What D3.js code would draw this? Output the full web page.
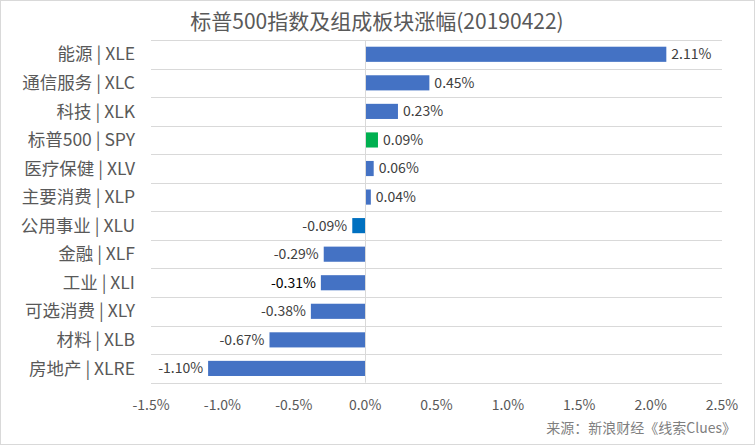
<!DOCTYPE html>
<html>
<head>
<meta charset="utf-8">
<script src="https://cdn.jsdelivr.net/npm/d3@7"></script>
<style>
  body { margin: 0; background: #fff; }
  svg { display: block; }
</style>
</head>
<body>
<svg id="chart" width="755" height="445"></svg>
<script>
// data
var categories = ["能源 | XLE", "通信服务 | XLC", "科技 | XLK", "标普500 | SPY", "医疗保健 | XLV",
  "主要消费 | XLP", "公用事业 | XLU", "金融 | XLF", "工业 | XLI", "可选消费 | XLY", "材料 | XLB", "房地产 | XLRE"];
var values = [2.11, 0.45, 0.23, 0.09, 0.06, 0.04, -0.09, -0.29, -0.31, -0.38, -0.67, -1.10];
var tickValues = [-1.5, -1.0, -0.5, 0.0, 0.5, 1.0, 1.5, 2.0, 2.5];
var title = "标普500指数及组成板块涨幅(20190422)";
var source = "来源：新浪财经《线索Clues》";

var font = "'Noto Sans CJK SC', 'Noto Sans', sans-serif";
var svg = d3.select("#chart");

// outer border
svg.append("rect")
    .attr("x", 0.5).attr("y", 0.5)
    .attr("width", 754).attr("height", 444)
    .style("fill", "#fff")
    .attr("stroke", "#d9d9d9");

var x = d3.scaleLinear().domain([-1.5, 2.5]).range([151, 722]);
var y = d3.scaleBand().domain(categories).range([40, 382.7]).paddingInner(0.47).paddingOuter(0.235);
var step = y.step();

// horizontal grid lines between categories
var gridYs = d3.range(categories.length + 1).map(function(i) { return 40 + i * step; });
svg.selectAll("line.grid")
    .data(gridYs)
    .enter()
    .append("line")
    .attr("x1", x(-1.5)).attr("x2", x(2.5))
    .attr("y1", function(d) { return Math.round(d) + 0.5; })
    .attr("y2", function(d) { return Math.round(d) + 0.5; })
    .attr("stroke", "#d9d9d9");

// bars
svg.selectAll("rect.bar")
    .data(values)
    .enter()
    .append("rect")
    .attr("x", function(d) { return x(Math.min(0, d)); })
    .attr("y", function(d, i) { return y(categories[i]); })
    .attr("width", function(d) { return Math.abs(x(d) - x(0)); })
    .attr("height", y.bandwidth())
    .style("fill", function(d, i) {
        if (categories[i].indexOf("SPY") >= 0) return "#00b050";
        if (categories[i].indexOf("XLU") >= 0) return "#0070c0";
        return "#4472c4";
    });

// zero axis line
svg.append("line")
    .attr("x1", Math.round(x(0)) + 0.5).attr("x2", Math.round(x(0)) + 0.5)
    .attr("y1", 40).attr("y2", 382.7)
    .attr("stroke", "#d9d9d9");

// value labels
svg.selectAll("text.val")
    .data(values)
    .enter()
    .append("text")
    .attr("x", function(d) { return d >= 0 ? x(d) + 5 : x(d) - 5; })
    .attr("y", function(d, i) { return y(categories[i]) + y.bandwidth() / 2; })
    .attr("dy", "0.35em")
    .attr("text-anchor", function(d) { return d >= 0 ? "start" : "end"; })
    .text(function(d) { return d.toFixed(2) + "%"; })
    .attr("font-family", font)
    .attr("font-size", "14px")
    .attr("fill", function(d, i) { return categories[i].indexOf("XLI") >= 0 ? "#000" : "#404040"; });

// category labels
svg.selectAll("text.cat")
    .data(categories)
    .enter()
    .append("text")
    .attr("x", 135)
    .attr("y", function(d) { return y(d) + y.bandwidth() / 2; })
    .attr("dy", "0.35em")
    .attr("text-anchor", "end")
    .text(function(d) { return d; })
    .attr("font-family", font)
    .attr("font-size", "17.5px")
    .attr("fill", "#595959");

// x tick labels
svg.selectAll("text.tick")
    .data(tickValues)
    .enter()
    .append("text")
    .attr("x", function(d) { return x(d); })
    .attr("y", 405)
    .attr("dy", "0.35em")
    .attr("text-anchor", "middle")
    .text(function(d) { return d.toFixed(1) + "%"; })
    .attr("font-family", font)
    .attr("font-size", "14px")
    .attr("fill", "#595959");

// title
svg.append("text")
    .attr("x", 377)
    .attr("y", 22)
    .attr("dy", "0.35em")
    .attr("text-anchor", "middle")
    .text(title)
    .attr("font-family", font)
    .attr("font-size", "21px")
    .attr("fill", "#595959");

// source
svg.append("text")
    .attr("x", 736)
    .attr("y", 428)
    .attr("dy", "0.35em")
    .attr("text-anchor", "end")
    .text(source)
    .attr("font-family", font)
    .attr("font-size", "14px")
    .attr("fill", "#7f7f7f");
</script>
</body>
</html>
